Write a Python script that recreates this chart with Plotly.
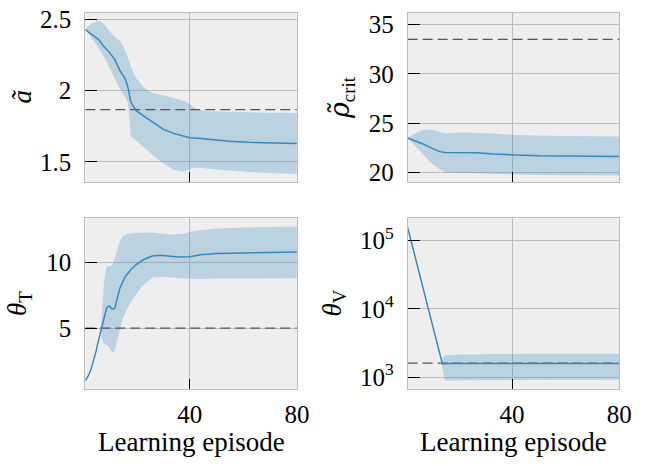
import plotly.graph_objects as go

# ---------------- data ----------------
# Panel A: a-tilde
a_x = [1, 3, 6, 8, 10, 12, 14, 16, 17, 18, 20, 23, 26, 30, 34, 38, 40, 43, 48, 55, 62, 70, 80]
a_mean = [2.43, 2.40, 2.36, 2.31, 2.27, 2.22, 2.14, 2.08, 2.02, 1.92, 1.86, 1.82, 1.78, 1.73, 1.70, 1.677, 1.67, 1.665, 1.655, 1.645, 1.637, 1.632, 1.628]
a_hi = [2.43, 2.47, 2.495, 2.47, 2.42, 2.38, 2.35, 2.28, 2.23, 2.17, 2.09, 2.02, 1.985, 1.965, 1.95, 1.93, 1.905, 1.862, 1.855, 1.85, 1.848, 1.846, 1.844]
a_lo = [2.43, 2.38, 2.30, 2.24, 2.16, 2.08, 2.01, 1.95, 1.91, 1.68, 1.65, 1.60, 1.55, 1.49, 1.445, 1.43, 1.45, 1.46, 1.45, 1.438, 1.428, 1.42, 1.415]
a_ref = 1.867

# Panel B: rho-tilde crit
b_x = [1, 4, 7, 10, 13, 15, 18, 22, 27, 33, 40, 50, 60, 70, 80]
b_mean = [23.48, 23.2, 22.85, 22.45, 22.1, 22.0, 22.0, 22.0, 21.98, 21.85, 21.75, 21.68, 21.65, 21.62, 21.6]
b_hi = [23.48, 24.0, 24.3, 24.35, 24.1, 23.95, 24.0, 24.05, 24.0, 23.95, 23.8, 23.72, 23.68, 23.65, 23.64]
b_lo = [23.48, 22.6, 21.8, 20.9, 20.3, 20.0, 19.95, 19.92, 19.9, 19.85, 19.75, 19.72, 19.7, 19.68, 19.67]
b_ref = 33.5

# Panel C: theta_T
c_x = [1, 2, 3, 4, 5, 6, 7, 8, 9, 10, 11, 12, 13, 14, 16, 18, 20, 23, 26, 29, 32, 36, 40, 44, 50, 60, 70, 80]
c_mean = [0.975, 1.3, 1.75, 2.4, 3.2, 4.1, 5.0, 5.9, 6.55, 6.68, 6.45, 6.5, 7.3, 8.1, 8.95, 9.45, 9.85, 10.25, 10.5, 10.55, 10.5, 10.43, 10.45, 10.6, 10.7, 10.75, 10.78, 10.8]
c_band_x = [7, 8, 9, 10, 11, 12, 13, 14, 15, 17, 19, 22, 26, 30, 34, 38, 40, 43, 50, 60, 70, 80]
c_hi = [5.5, 8.5, 9.7, 9.7, 9.75, 10.3, 11.0, 11.7, 12.0, 12.2, 12.25, 12.28, 12.3, 12.2, 12.15, 12.2, 12.35, 12.45, 12.6, 12.68, 12.72, 12.75]
c_lo = [4.2, 3.8, 3.7, 3.5, 3.15, 3.25, 4.1, 5.0, 5.7, 6.6, 7.3, 8.15, 8.85, 8.9, 8.82, 8.78, 8.77, 8.75, 8.78, 8.8, 8.8, 8.8]
c_ref = 5

# Panel D: theta_V (log scale)
d_x = [1, 14, 15, 20, 30, 40, 50, 60, 70, 80]
d_mean = [156000, 1550, 1580, 1580, 1585, 1585, 1585, 1585, 1585, 1585]
d_band_x = [14, 15, 20, 30, 40, 50, 60, 70, 80]
d_hi = [1900, 2100, 2150, 2180, 2200, 2200, 2200, 2200, 2200]
d_lo = [1350, 890, 900, 905, 910, 912, 915, 915, 915]
d_ref = 1600

x_ticks = [40, 80]
a_ticks = [1.5, 2, 2.5]
a_ticktext = ["1.5", "2", "2.5"]
b_ticks = [20, 25, 30, 35]
c_ticks = [5, 10]
d_ticks = [1e3, 1e4, 1e5]
d_ticktext = ["10<sup>3</sup>", "10<sup>4</sup>", "10<sup>5</sup>"]

ylabels = [
    "<i>ã</i>",
    "<span style=\"font-family:'DejaVu Serif'\"><i>ρ̃</i></span><sub>crit</sub>",
    "<i>θ</i><sub>T</sub>",
    "<i>θ</i><sub>V</sub>",
]
xlabel = "Learning episode"

# ---------------- style ----------------
W, H = 646, 466
LINE = "#348ABD"
BAND = "rgba(52,138,189,0.27)"
FONT = "Liberation Serif"
FS_TICK = 25
FS_LAB = 27

def px_x(p):
    return p / W

def px_y(p):
    return 1 - p / H

doms_x = [[px_x(87), px_x(303)], [px_x(416), px_x(632)]]
doms_y = [[px_y(180), px_y(7)], [px_y(391), px_y(217)]]

fig = go.Figure()

panels = [
    (a_x, a_mean, a_x, a_hi, a_lo, a_ref),
    (b_x, b_mean, b_x, b_hi, b_lo, b_ref),
    (c_x, c_mean, c_band_x, c_hi, c_lo, c_ref),
    (d_x, d_mean, d_band_x, d_hi, d_lo, d_ref),
]

for i, (mx, my, bx, hi, lo, ref) in enumerate(panels):
    n = i + 1
    xa = "x" if n == 1 else f"x{n}"
    ya = "y" if n == 1 else f"y{n}"
    fig.add_trace(go.Scatter(x=bx, y=hi, mode="lines", line=dict(width=0, color=LINE),
                             xaxis=xa, yaxis=ya, showlegend=False, hoverinfo="skip"))
    fig.add_trace(go.Scatter(x=bx, y=lo, mode="lines", line=dict(width=0, color=LINE),
                             fill="tonexty", fillcolor=BAND,
                             xaxis=xa, yaxis=ya, showlegend=False, hoverinfo="skip"))
    fig.add_trace(go.Scatter(x=[1, 80], y=[ref, ref], mode="lines",
                             line=dict(color="#555555", width=1.3, dash="10px,5px"),
                             xaxis=xa, yaxis=ya, showlegend=False))
    fig.add_trace(go.Scatter(x=mx, y=my, mode="lines", line=dict(color=LINE, width=1.5),
                             xaxis=xa, yaxis=ya, showlegend=False))

common_axis = dict(
    showline=True, mirror=True, linecolor="#bcbcbc", linewidth=1,
    showgrid=True, gridcolor="#bcbcbc", gridwidth=1, zeroline=False,
    ticks="inside", tickcolor="#000000", tickwidth=1,
    tickfont=dict(family=FONT, size=FS_TICK, color="#000000"),
    ticklabeloverflow="allow",
)

layout = dict(
    width=W, height=H, margin=dict(l=0, r=0, t=0, b=0),
    paper_bgcolor="white", plot_bgcolor="#eeeeee",
    font=dict(family=FONT, size=FS_TICK, color="#000000"),
    showlegend=False,
)

positions = [(0, 0), (1, 0), (0, 1), (1, 1)]
yconf = [
    dict(range=[1.357, 2.548], tickvals=a_ticks, ticktext=a_ticktext),
    dict(range=[19.0, 36.2], tickvals=b_ticks),
    dict(range=[0.375, 13.375], tickvals=c_ticks),
    dict(type="log", range=[2.832, 5.326], tickvals=d_ticks, ticktext=d_ticktext),
]

for i, (col, row) in enumerate(positions):
    n = i + 1
    xk = "xaxis" if n == 1 else f"xaxis{n}"
    yk = "yaxis" if n == 1 else f"yaxis{n}"
    yanchor_name = "y" if n == 1 else f"y{n}"
    xanchor_name = "x" if n == 1 else f"x{n}"
    layout[xk] = dict(common_axis, domain=doms_x[col], anchor=yanchor_name,
                      range=[1, 80], tickvals=x_ticks, ticklen=10,
                      showticklabels=(row == 1), ticklabelstandoff=3)
    layout[yk] = dict(common_axis, domain=doms_y[row], anchor=xanchor_name,
                      ticklen=12, ticklabelstandoff=8, **yconf[i])

fig.update_layout(**layout)

# y-axis labels
ylab_pos = [(22, 93), (348, 93), (20, 304), (341, 304)]
for lab, (xp, yp) in zip(ylabels, ylab_pos):
    fig.add_annotation(text=lab, x=px_x(xp), y=px_y(yp), xref="paper", yref="paper",
                       showarrow=False, textangle=-90, xanchor="center", yanchor="middle",
                       font=dict(family=FONT, size=FS_LAB, color="#000000"))

for xp in [195, 524]:
    fig.add_annotation(text=xlabel, x=px_x(xp), y=px_y(446), xref="paper", yref="paper",
                       showarrow=False, xanchor="center", yanchor="middle",
                       font=dict(family=FONT, size=FS_LAB, color="#000000"))

fig.write_html("out.html", config={"displayModeBar": False},
               post_script="document.body.style.margin='0px';")
